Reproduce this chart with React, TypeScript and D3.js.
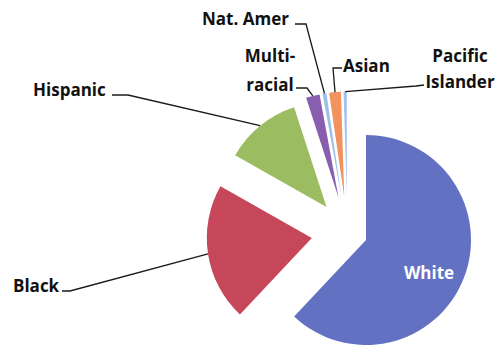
import React from "react";
import * as d3 from "d3";

const categories = ["White", "Black", "Hispanic", "Multiracial", "Nat. Amer", "Asian", "Pacific Islander"];
const values = [62, 21.2, 11.8, 2.1, 0.6, 1.8, 0.5];
const labelTexts = [["White"], ["Black"], ["Hispanic"], ["Multi-", "racial"], ["Nat. Amer"], ["Asian"], ["Pacific", "Islander"]];

const colors = ["#6271C2", "#C6465A", "#9CBC62", "#8A5EAE", "#9CC0EA", "#F2925E", "#A4C2EE"];
const explode = [20, 36, 33, 36, 36, 36, 36];

const W = 497;
const H = 352;
const cx = 347.4;
const cy = 232.6;
const R = 105;

// label layout: text anchor, lines' baselines, leader elbow points (style/layout only)
const labelLayout: any[] = [
  { x: 429, y: 279, anchor: "middle", inside: true },
  { x: 13, y: 292, anchor: "start", elbow: [[62, 291], [70, 291]] },
  { x: 33, y: 96, anchor: "start", elbow: [[112, 95], [128, 95]] },
  { x: 270, y: 62, anchor: "middle", lh: 29, elbow: [[296, 88], [307, 88]] },
  { x: 202, y: 25, anchor: "start", elbow: [[295, 24], [306, 24]] },
  { x: 343, y: 72, anchor: "start", elbow: [[342, 68], [333, 68]] },
  { x: 460, y: 62, anchor: "middle", lh: 26, elbow: [[424, 85], [416, 86]] },
];

export default function App() {
  const data = categories.map((c, i) => ({ c, v: values[i], i }));
  const pie = d3.pie<any>().value((d) => d.v).sort(null).startAngle(0).endAngle(2 * Math.PI);
  const arcs = pie(data);
  const arcGen = d3.arc<any>().innerRadius(0).outerRadius(R);

  return (
    <svg width={W} height={H} style={{ position: "absolute", left: 0, top: 0, background: "#fff" }}>
      {arcs.map((a, i) => {
        const mid = (a.startAngle + a.endAngle) / 2;
        const ox = cx + explode[i] * Math.sin(mid);
        const oy = cy - explode[i] * Math.cos(mid);
        const L = labelLayout[i];
        const ex = ox + R * Math.sin(mid);
        const ey = oy - R * Math.cos(mid);
        const lh = L.lh || 0;
        return (
          <g key={categories[i]}>
            <path d={arcGen(a) as string} transform={`translate(${ox},${oy})`} fill={colors[i]} />
            {!L.inside && (
              <polyline
                points={[...L.elbow, [ex, ey]].map((p: number[]) => p.join(",")).join(" ")}
                fill="none"
                stroke="#1a1a1a"
                strokeWidth={1.3}
              />
            )}
            <text
              textAnchor={L.anchor}
              fontFamily="'Open Sans', sans-serif"
              fontWeight={700}
              fontSize={17}
              fill={L.inside ? "#ffffff" : "#111111"}
            >
              {labelTexts[i].map((t, k) => (
                <tspan key={k} x={L.x} y={L.y + k * lh}>
                  {t}
                </tspan>
              ))}
            </text>
          </g>
        );
      })}
    </svg>
  );
}
